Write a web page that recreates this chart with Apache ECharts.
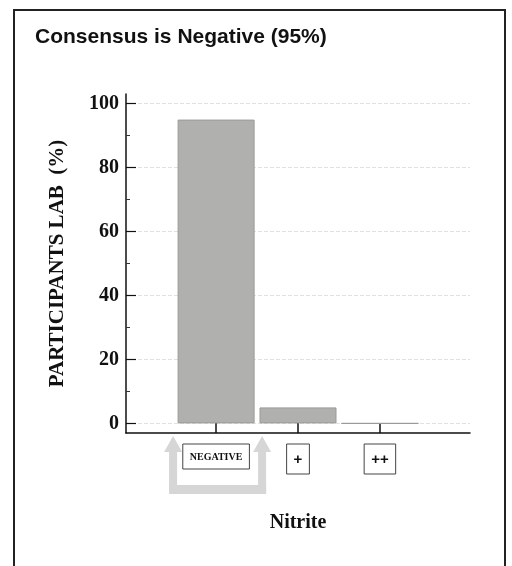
<!DOCTYPE html>
<html>
<head>
<meta charset="utf-8">
<script src="https://cdn.jsdelivr.net/npm/echarts@6/dist/echarts.min.js"></script>
<style>html,body{margin:0;padding:0;background:#fff;}#c{width:512px;height:566px;}</style>
</head>
<body>
<div id="c"></div>
<script>
const categories = ['NEGATIVE', '+', '++'];
const positions = [1, 2, 3];
const values = [95, 5, 0];
const yTicks = [0, 20, 40, 60, 80, 100];
const yMinorTicks = [10, 30, 50, 70, 90];

const chart = echarts.init(document.getElementById('c'));
const serif = 'Liberation Serif, DejaVu Serif, serif';
chart.setOption({
  animation: false,
  backgroundColor: '#fff',
  title: {
    text: 'Consensus is Negative (95%)',
    left: 30, top: 22,
    textStyle: { fontFamily: 'Liberation Sans, Arial, sans-serif', fontWeight: 'bold', fontSize: 21, color: '#111' }
  },
  grid: { left: 126, right: 42, top: 94, bottom: 133 },
  xAxis: {
    type: 'value', min: -0.1, max: 4.1,
    name: 'Nitrite', nameLocation: 'middle', nameGap: 80,
    nameTextStyle: { fontFamily: serif, fontSize: 20, fontWeight: 'bold', color: '#111' },
    axisLine: { show: true, onZero: false, lineStyle: { color: '#111', width: 1.5 } },
    axisTick: { show: true, inside: true, length: 10, customValues: positions, lineStyle: { color: '#111', width: 1.5 } },
    axisLabel: {
      customValues: positions,
      formatter: v => {
        const c = categories[positions.indexOf(v)] || '';
        return c === 'NEGATIVE' ? '{n|' + c + '}' : '{p|' + c + '}';
      },
      rich: {
        n: { fontFamily: serif, fontSize: 10, fontWeight: 'bold', color: '#111' },
        p: { fontFamily: 'Liberation Sans, Arial, sans-serif', fontSize: 15, fontWeight: 'bold', color: '#111' }
      },
      borderColor: '#444', borderWidth: 1, padding: [8, 7, 7, 7], margin: 11
    },
    splitLine: { show: false }
  },
  yAxis: [{
    type: 'value', min: -3, max: 103,
    name: 'PARTICIPANTS LAB  (%)', nameLocation: 'middle', nameGap: 58,
    nameTextStyle: { fontFamily: serif, fontSize: 21, fontWeight: 'bold', color: '#111' },
    axisLine: { show: true, onZero: false, lineStyle: { color: '#111', width: 1.5 } },
    axisTick: { show: true, inside: true, length: 10, customValues: yTicks, lineStyle: { color: '#111', width: 1.2 } },
    axisLabel: { customValues: yTicks, fontFamily: serif, fontSize: 20, fontWeight: 'bold', color: '#111', margin: 7 },
    splitLine: { show: true, lineStyle: { color: '#e2e2dc', type: 'dashed', width: 1 } }
  }, {
    type: 'value', min: -3, max: 103, position: 'left',
    axisLine: { show: false, onZero: false },
    axisTick: { show: true, inside: true, length: 4, customValues: yMinorTicks, lineStyle: { color: '#333', width: 1 } },
    axisLabel: { show: false },
    splitLine: { show: false }
  }],
  series: [{
    type: 'bar',
    barWidth: 77,
    data: positions.map((p, i) => [p, values[i]]),
    itemStyle: { color: '#b0b0ae', borderColor: '#9a9a98', borderWidth: 1 }
  }]
});

const p = chart.convertToPixel({ xAxisIndex: 0, yAxisIndex: 0 }, [positions[0], 0]);
const xAxisY = chart.convertToPixel({ yAxisIndex: 0 }, -3);
function arrow(cx) {
  const top = xAxisY + 3, headB = top + 16, bot = top + 56;
  return { type: 'polygon', z: -1, shape: { points: [[cx, top], [cx + 9, headB], [cx + 4, headB], [cx + 4, bot], [cx - 4, bot], [cx - 4, headB], [cx - 9, headB]] }, style: { fill: '#d6d6d6' } };
}
chart.setOption({
  graphic: [
    { type: 'rect', shape: { x: 14, y: 10, width: 491, height: 600 }, style: { fill: 'none', stroke: '#222', lineWidth: 2 } },
    arrow(p[0] - 43),
    arrow(p[0] + 46),
    { type: 'rect', z: -1, shape: { x: p[0] - 47, y: xAxisY + 52, width: 97, height: 9 }, style: { fill: '#d6d6d6' } }
  ]
});
</script>
</body>
</html>
